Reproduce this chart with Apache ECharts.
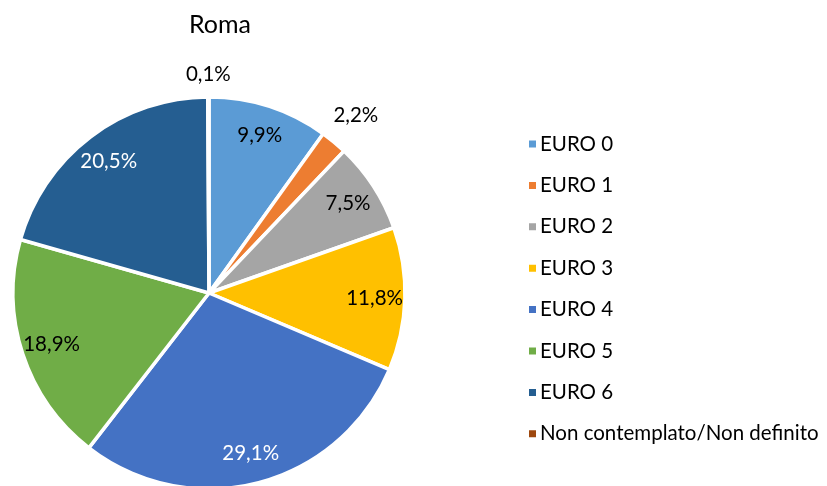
<!DOCTYPE html>
<html>
<head>
<meta charset="utf-8">
<script src="https://cdn.jsdelivr.net/npm/echarts@6/dist/echarts.min.js"></script>
<style>
  html, body { margin: 0; padding: 0; background: #fff; }
  #chart { width: 827px; height: 486px; }
</style>
</head>
<body>
<div id="chart"></div>
<script>
const categories = ["EURO 0", "EURO 1", "EURO 2", "EURO 3", "EURO 4", "EURO 5", "EURO 6", "Non contemplato/Non definito"];
const values = [9.9, 2.2, 7.5, 11.8, 29.1, 18.9, 20.5, 0.1];
const colors = ["#5B9BD5", "#ED7D31", "#A5A5A5", "#FFC000", "#4472C4", "#70AD47", "#255E91", "#9E480E"];
const whiteLabels = ["EURO 4", "EURO 6"];

const FONT = "Lato";
const R = 196;
const center = [209, 293];

const fmt = (p) => p.value.toFixed(1).replace(".", ",") + "%";

const chart = echarts.init(document.getElementById("chart"));

// real slices
const pieData = categories.map((name, i) => ({
  name, value: values[i], itemStyle: { color: colors[i] }
}));

// invisible rings used only to place labels; show = which names get a label on that ring
const labelRing = (show) => categories.map((name, i) => ({
  name, value: values[i],
  label: { show: show.includes(name), color: whiteLabels.includes(name) ? "#fff" : "#000" }
}));

const ghost = (radius, show) => ({
  type: "pie",
  center,
  radius,
  startAngle: 90,
  silent: true,
  animation: false,
  itemStyle: { color: "rgba(0,0,0,0)", borderWidth: 0 },
  emphasis: { disabled: true },
  labelLine: { show: false },
  label: { position: "inside", formatter: fmt, fontFamily: FONT, fontSize: 20.5 },
  data: labelRing(show)
});

chart.setOption({
  color: colors,
  title: {
    text: "Roma",
    left: 215, top: 7, textAlign: "center",
    textStyle: { fontFamily: FONT, fontSize: 25, fontWeight: "normal", color: "#000" }
  },
  legend: {
    orient: "vertical",
    left: 522, top: 128,
    icon: "rect",
    itemWidth: 9, itemHeight: 9,
    itemGap: 19.4,
    data: categories,
    textStyle: { fontFamily: FONT, fontSize: 20.5, color: "#000", lineHeight: 22, padding: [0, 0, 0, -2] }
  },
  series: [
    {
      type: "pie",
      center,
      radius: R,
      startAngle: 90,
      animation: false,
      data: pieData,
      itemStyle: { borderColor: "#fff", borderWidth: 3.5 },
      label: { show: false },
      labelLine: { show: false },
      emphasis: { disabled: true }
    },
    ghost([R * 0.66, R], ["EURO 0", "EURO 2", "EURO 3", "EURO 4", "EURO 5", "EURO 6"]),
    ghost([R, R * 1.2], ["Non contemplato/Non definito"]),
    ghost([R, R * 1.32], ["EURO 1"])
  ]
});
</script>
</body>
</html>
